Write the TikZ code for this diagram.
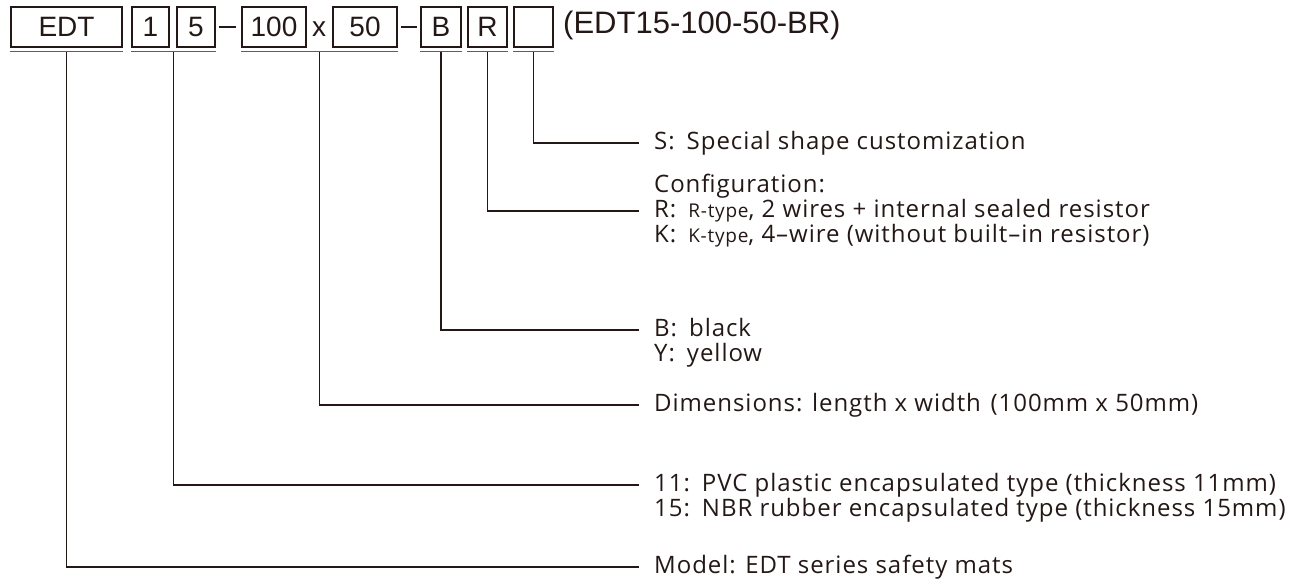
\documentclass[tikz,border=0pt]{standalone}
\usepackage{fontspec}
\usetikzlibrary{calc}
\setmainfont{Open Sans}[LetterSpace=4]
\newfontfamily\boxfont{Liberation Sans}
\definecolor{ink}{HTML}{231815}
\begin{document}
\begin{tikzpicture}[x=1pt,y=-1pt,
  cell/.style={draw=ink, line width=1.1pt, minimum height=40pt, inner sep=0pt,
    font=\boxfont\fontsize{28}{30}\selectfont, text=ink},
  lbl/.style={anchor=west, inner xsep=15pt, inner ysep=0pt, text height=18pt, text depth=6pt,
    font=\fontsize{24}{28}\selectfont, text=ink},
  lead/.style={draw=ink, line width=1.1pt},
  uline/.style={draw=ink!70, line width=1.6pt}]
\useasboundingbox (0,0) rectangle (1300,581);
% code boxes
\node[cell, minimum width=111pt] (bEDT) at (66.5,27) {EDT};
\node[cell, minimum width=37pt] (b1) at (150.5,27) {1};
\node[cell, minimum width=38pt] (b5) at (196,27) {5};
\node[cell, minimum width=64pt] (b100) at (274,27) {100};
\node[cell, minimum width=64pt] (b50) at (365,27) {50};
\node[cell, minimum width=40pt] (bB) at (441,27) {B};
\node[cell, minimum width=39pt] (bR) at (487.5,27) {R};
\node[cell, minimum width=39pt] (bS) at (533.5,27) {};
\node[inner sep=0pt, font=\boxfont\fontsize{28}{30}\selectfont, text=ink] (times) at (319,29) {x};
\node[anchor=west, inner sep=0pt, font=\boxfont\fontsize{31}{34}\selectfont, text=ink] (code) at (563,25) {(EDT15-100-50-BR)};
% dashes
\draw[lead, shorten <=3pt, shorten >=5pt] (b5.east) -- (b100.west);
\draw[lead, shorten <=3pt, shorten >=3pt] (b50.east) -- (bB.west);
% underlines
\draw[uline] ([yshift=-4pt]bEDT.south west) -- ([yshift=-4pt]bEDT.south east);
\draw[uline] ([yshift=-4pt]b1.south west) -- ([yshift=-4pt]b5.south east);
\draw[uline] ([yshift=-4pt]b100.south west) -- ([yshift=-4pt]b50.south east);
\draw[uline] ([yshift=-4pt]bB.south west) -- ([yshift=-4pt]bB.south east);
\draw[uline] ([yshift=-4pt]bR.south west) -- ([yshift=-4pt]bR.south east);
\draw[uline] ([yshift=-4pt]bS.south west) -- ([yshift=-4pt]bS.south east);
\coordinate (uEDT) at ([yshift=-4pt]bEDT.south);
\coordinate (u15) at ([yshift=-4pt]$(b1.south west)!0.5!(b5.south east)$);
\coordinate (uDim) at ([yshift=-4pt]$(b100.south west)!0.5!(b50.south east)$);
\coordinate (uB) at ([yshift=-4pt]bB.south);
\coordinate (uR) at ([yshift=-4pt]bR.south);
\coordinate (uS) at ([yshift=-4pt]bS.south);
% labels
\node[lbl] (lS) at (639,143) {S:\hspace{0.5em}Special shape customization};
\node[lbl] (lConf) at (639,186) {Configuration:};
\node[lbl] (lR) at (639,211) {R:\hspace{0.5em}{\fontsize{19}{22}\selectfont R-type}, 2 wires + internal sealed resistor};
\node[lbl] (lK) at (639,236) {K:\hspace{0.5em}{\fontsize{19}{22}\selectfont K-type}, 4–wire (without built–in resistor)};
\node[lbl] (lB) at (639,330) {B:\hspace{0.5em}black};
\node[lbl] (lY) at (639,355) {Y:\hspace{0.5em}yellow};
\node[lbl] (lD) at (639,405) {Dimensions: length x width\hspace{0.4em}(100mm x 50mm)};
\node[lbl] (l11) at (639,485) {11:\hspace{0.5em}PVC plastic encapsulated type (thickness 11mm)};
\node[lbl] (l15) at (639,510) {15:\hspace{0.5em}NBR rubber encapsulated type (thickness 15mm)};
\node[lbl] (lM) at (639,567) {Model: EDT series safety mats};
% leaders
\draw[lead] (uS) |- (lS.west);
\draw[lead] (uR) |- (lR.west);
\draw[lead] (uB) |- (lB.west);
\draw[lead] (uDim) |- (lD.west);
\draw[lead] (u15) |- (l11.west);
\draw[lead] (uEDT) |- (lM.west);
\end{tikzpicture}
\end{document}
